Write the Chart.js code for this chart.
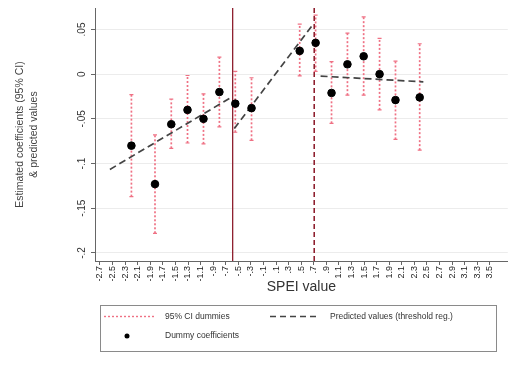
<!DOCTYPE html>
<html>
<head>
<meta charset="utf-8">
<script src="https://cdn.jsdelivr.net/npm/chart.js@4"></script>
<style>
  html, body { margin: 0; padding: 0; background: #fff; }
  #wrap { width: 513px; height: 376px; }
</style>
</head>
<body>
<div id="wrap"><canvas id="chart" width="513" height="376"></canvas></div>
<script>
// SPEI bin centres of the dummies and their estimates
const spei = [-2.2, -1.825, -1.566, -1.308, -1.054, -0.801, -0.548, -0.29, 0.476, 0.729, 0.982, 1.235, 1.493, 1.746, 1.999, 2.384];
const coef = [-0.080, -0.123, -0.056, -0.040, -0.050, -0.020, -0.033, -0.038, 0.026, 0.035, -0.021, 0.011, 0.020, 0.000, -0.029, -0.026];
const ciLow = [-0.137, -0.178, -0.083, -0.077, -0.078, -0.059, -0.065, -0.074, -0.002, 0.003, -0.055, -0.0235, -0.0235, -0.040, -0.073, -0.085];
const ciHigh = [-0.023, -0.068, -0.028, -0.0015, -0.022, 0.019, 0.003, -0.004, 0.056, 0.066, 0.014, 0.046, 0.064, 0.040, 0.0145, 0.034];

// threshold regression: one fitted segment per regime
const fitX = [[-2.542, -0.643], [-0.564, 0.666], [0.808, 2.442]];
const fitY = [[-0.1066, -0.0272], [-0.0608, 0.0537], [-0.0022, -0.0086]];
const thresholds = [-0.59, 0.707];

const xTicks = [-2.7, -2.5, -2.3, -2.1, -1.9, -1.7, -1.5, -1.3, -1.1, -0.9, -0.7, -0.5, -0.3, -0.1,
  0.1, 0.3, 0.5, 0.7, 0.9, 1.1, 1.3, 1.5, 1.7, 1.9, 2.1, 2.3, 2.5, 2.7, 2.9, 3.1, 3.3, 3.5];
const yTicks = [-0.2, -0.15, -0.1, -0.05, 0, 0.05];

const yMin = -0.209, yMax = 0.074;
const FONT = "'Liberation Sans', Arial, sans-serif";
const CI_RED = '#ef7184';
const FIT_GREY = '#444';

// Stata style numbers: no leading zero
function stataNum(v) {
  const r = Math.round(v * 100) / 100;
  if (r === 0) return '0';
  return String(r).replace(/^(-?)0\./, '$1.');
}

// one short vertical line dataset per confidence interval
const ciSets = spei.map((x, i) => ({
  type: 'line',
  label: i === 0 ? '95% CI dummies' : '',
  data: [{ x, y: ciLow[i] }, { x, y: ciHigh[i] }],
  borderColor: CI_RED,
  backgroundColor: CI_RED,
  borderWidth: 1.7,
  borderDash: [2, 2],
  fill: false,
  pointStyle: 'line',
  pointRadius: 2,
  pointBorderColor: CI_RED,
  pointBorderWidth: 1.2,
  order: 4,
}));

const fitPoints = [];
fitX.forEach((xs, i) => {
  fitPoints.push({ x: xs[0], y: fitY[i][0] }, { x: xs[1], y: fitY[i][1] }, { x: xs[1], y: null });
});

const legendBox = {
  id: 'legendBox',
  afterDraw(chart) {
    const c = chart.ctx;
    c.save();
    c.strokeStyle = '#8a8a8a';
    c.lineWidth = 1;
    c.strokeRect(100.5, 305.5, 396, 46);

    c.font = '8.5px ' + FONT;
    c.fillStyle = '#333';
    c.textBaseline = 'middle';

    // 95% CI sample
    c.strokeStyle = CI_RED;
    c.lineWidth = 1.4;
    c.setLineDash([2, 2]);
    c.beginPath(); c.moveTo(104, 316.5); c.lineTo(154, 316.5); c.stroke();
    c.fillText('95% CI dummies', 165, 317);

    // fitted line sample
    c.strokeStyle = FIT_GREY;
    c.lineWidth = 1.3;
    c.setLineDash([6, 4]);
    c.beginPath(); c.moveTo(270, 316.5); c.lineTo(320, 316.5); c.stroke();
    c.setLineDash([]);
    c.fillText('Predicted values (threshold reg.)', 330, 317);

    // point sample
    c.fillStyle = '#000';
    c.beginPath(); c.arc(127, 336, 2.5, 0, Math.PI * 2); c.fill();
    c.fillStyle = '#333';
    c.fillText('Dummy coefficients', 165, 336);
    c.restore();
  }
};

new Chart(document.getElementById('chart'), {
  type: 'scatter',
  data: {
    datasets: [
      ...ciSets,
      {
        label: 'Lower threshold',
        data: [{ x: thresholds[0], y: yMin }, { x: thresholds[0], y: yMax }],
        showLine: true,
        borderColor: '#8e1f2e',
        borderWidth: 1.3,
        pointRadius: 0,
        order: 3,
      },
      {
        label: 'Upper threshold',
        data: [{ x: thresholds[1], y: yMin }, { x: thresholds[1], y: yMax }],
        showLine: true,
        borderColor: '#8e1f2e',
        borderWidth: 1.6,
        borderDash: [5, 3],
        pointRadius: 0,
        order: 3,
      },
      {
        label: 'Predicted values (threshold reg.)',
        data: fitPoints,
        showLine: true,
        borderColor: FIT_GREY,
        borderWidth: 1.7,
        borderDash: [7, 4],
        pointRadius: 0,
        order: 2,
      },
      {
        label: 'Dummy coefficients',
        data: spei.map((x, i) => ({ x, y: coef[i] })),
        backgroundColor: '#000',
        borderColor: '#000',
        pointRadius: 3.8,
        order: 1,
      },
    ],
  },
  options: {
    responsive: false,
    animation: false,
    layout: { padding: { left: 0, top: 8, right: 3, bottom: 80 } },
    plugins: {
      legend: { display: false },
      tooltip: { enabled: false },
    },
    scales: {
      x: {
        type: 'linear',
        min: -2.779,
        max: 3.785,
        afterBuildTicks: s => { s.ticks = xTicks.map(v => ({ value: v })); },
        afterFit: s => { s.height = 35; },
        ticks: {
          autoSkip: false,
          minRotation: 90,
          maxRotation: 90,
          padding: 1,
          color: '#222',
          font: { family: FONT, size: 9 },
          callback: v => stataNum(v),
        },
        grid: { drawOnChartArea: false, tickColor: '#666', tickLength: 4 },
        border: { color: '#666' },
        title: {
          display: true,
          text: 'SPEI value',
          color: '#333',
          font: { family: FONT, size: 14 },
          padding: { top: 2, bottom: 0 },
        },
      },
      y: {
        min: yMin,
        max: yMax,
        afterBuildTicks: s => { s.ticks = yTicks.map(v => ({ value: v })); },
        afterFit: s => { s.width = 95; },
        ticks: {
          minRotation: 90,
          maxRotation: 90,
          crossAlign: 'center',
          padding: 0,
          color: '#333',
          font: { family: FONT, size: 10 },
          callback: v => stataNum(v),
        },
        grid: { color: '#ececec', tickColor: '#666', tickLength: 4 },
        border: { color: '#666' },
        title: {
          display: true,
          text: ['Estimated coefficients (95% CI)', '& predicted values'],
          color: '#444',
          font: { family: FONT, size: 10.5, lineHeight: 1.25 },
          padding: { top: 14, bottom: 0 },
        },
      },
    },
  },
  plugins: [legendBox],
});
</script>
</body>
</html>
